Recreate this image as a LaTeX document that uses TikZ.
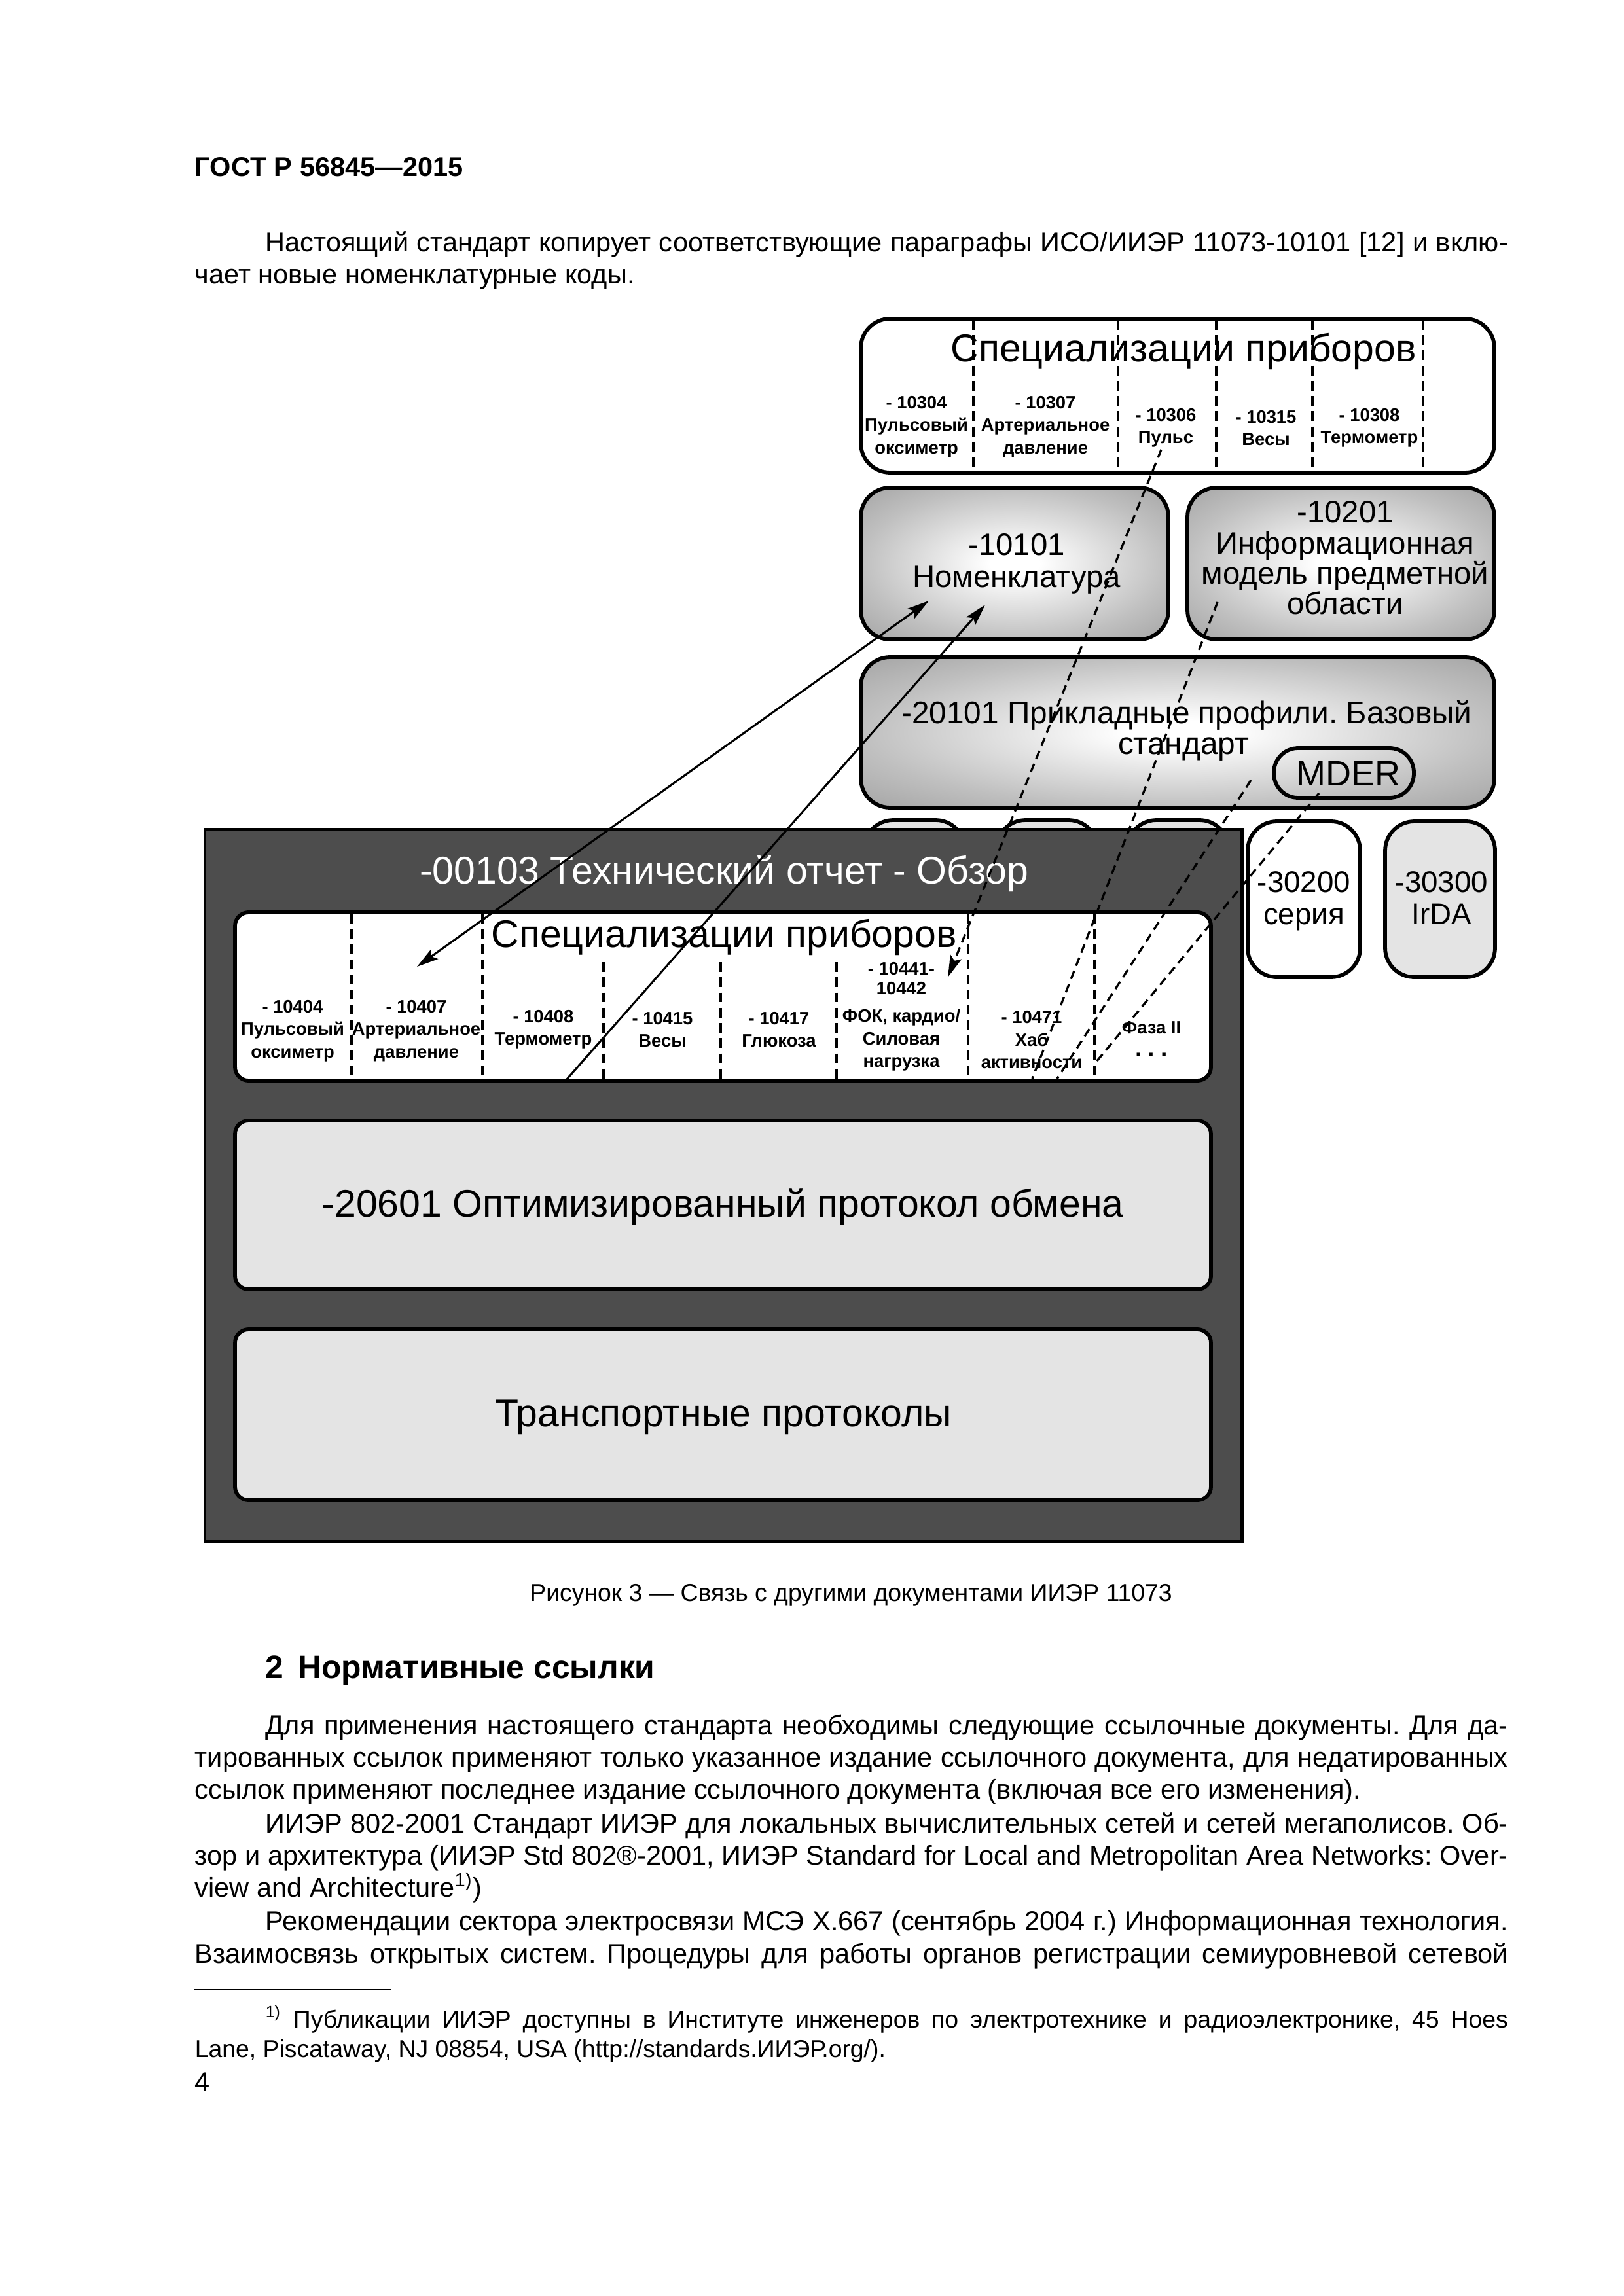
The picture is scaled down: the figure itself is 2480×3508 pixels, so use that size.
\documentclass[tikz,border=0pt]{standalone}
\usepackage{fontspec}
\setmainfont{Liberation Sans}
\usetikzlibrary{fit,arrows.meta}
\newdimen\px \px=0.24088pt
\definecolor{darkbox}{HTML}{4D4D4D}
\definecolor{lightbox}{HTML}{E4E4E4}
\pgfdeclareradialshading{boxshade}{\pgfpoint{0bp}{0bp}}{color(0bp)=(white); color(4bp)=(white); color(25bp)=(black!25); color(36bp)=(black!36); color(50bp)=(black!36)}
\tikzset{
  boxline/.style={draw=black, line width=1.4pt},
  bigbox/.style={boxline, rounded corners=10.8pt, inner sep=0pt},
  shadebox/.style={bigbox, shading=boxshade},
  innerbox/.style={boxline, rounded corners=5pt, inner sep=0pt},
  divider/.style={line width=0.9pt, dash pattern=on 3.6pt off 2pt},
  link/.style={line width=0.75pt},
  dlink/.style={line width=0.8pt, dash pattern=on 3.2pt off 2pt},
  small/.style={font=\fontsize{6.6}{8.3}\selectfont\bfseries, align=center, inner sep=0pt},
  big/.style={font=\fontsize{14.2}{17}\selectfont, inner sep=0pt, anchor=base},
  mid/.style={font=\fontsize{11.4}{11.8}\selectfont, inner sep=0pt, anchor=base},
  body/.style={font=\fontsize{10}{12}\selectfont, inner sep=0pt, anchor=base west},
}
\begin{document}
\frenchspacing
\begin{tikzpicture}[x=0.24088pt, y=-0.24088pt, >={Stealth[length=8pt,width=4.4pt,inset=1.5pt]}]
\fill[white] (0,0) rectangle (2480,3508);
\path[use as bounding box] (0,0) rectangle (2480,3508);

% ---------- page text (top) ----------
\node[body, font=\fontsize{10}{12}\selectfont\bfseries] (hdr) at (297,270) {ГОСТ Р 56845—2015};
\node[body] (p1a) at (405,385) {\hbox to 1898\px{Настоящий стандарт копирует соответствующие параграфы ИСО/ИИЭР 11073-10101 [12] и вклю-}};
\node[body] (p1b) at (297,434) {чает новые номенклатурные коды.};

% ---------- boxes partly hidden behind the dark box ----------
\node[bigbox, fill=lightbox, fit={(1320,1253) (1474,1493)}] (hidA) {};
\node[bigbox, fill=lightbox, fit={(1522,1253) (1677,1493)}] (hidB) {};
\node[bigbox, fill=lightbox, fit={(1722,1253) (1877,1493)}] (hidC) {};
\node[bigbox, fill=white, fit={(1906,1255) (2078,1493)}] (s30200) {};
\node[mid, font=\fontsize{11}{11.8}\selectfont] (s30200a) at (1992,1363) {-30200};
\node[mid, font=\fontsize{11}{11.8}\selectfont] (s30200b) at (1992,1412) {серия};
\node[bigbox, fill=lightbox, fit={(2116,1255) (2284,1493)}] (s30300) {};
\node[mid, font=\fontsize{11}{11.8}\selectfont] (s30300a) at (2202,1363) {-30300};
\node[mid, font=\fontsize{11}{11.8}\selectfont] (s30300b) at (2202,1412) {IrDA};

% ---------- top device specialisations ----------
\node[bigbox, fill=white, fit={(1315,487) (2283,722)}] (topspec) {};
\foreach \xx in {1487,1708,1858,2005,2174} \draw[divider] (\xx,489) -- (\xx,720);
\node[big] (topttl) at (1808,553) {Специализации приборов};
\node[small] (tl1) at (1400,652) {- 10304\\Пульсовый\\оксиметр};
\node[small] (tl2) at (1597,652) {- 10307\\Артериальное\\давление};
\node[small] (tl3) at (1781,654) {- 10306\\Пульс};
\node[small] (tl4) at (1934,654) {- 10315\\Весы};
\node[small] (tl5) at (2092,654) {- 10308\\Термометр};

% ---------- nomenclature / DIM ----------
\node[shadebox, fit={(1315,745) (1785,977)}] (nom) {};
\node[mid] (noma) at (1553,848) {-10101};
\node[mid] (nomb) at (1553,897) {Номенклатура};
\node[shadebox, fit={(1814,745) (2283,977)}] (dim) {};
\node[mid] (dima) at (2055,798) {-10201};
\node[mid] (dimb) at (2055,846) {Информационная};
\node[mid] (dimc) at (2055,892) {модель предметной};
\node[mid] (dimd) at (2055,938) {области};

% ---------- 20101 ----------
\node[shadebox, fit={(1315,1004) (2283,1234)}] (app) {};
\node[mid, font=\fontsize{11.5}{11.8}\selectfont] (appt1) at (1813,1105) {-20101 Прикладные профили. Базовый};
\node[mid, font=\fontsize{11.5}{11.8}\selectfont] (appt2) at (1808,1152) {стандарт};
\node[boxline, rounded corners=9pt, inner sep=0pt, fit={(1946,1143) (2160,1219)}] (mder) {};
\node[mid, font=\fontsize{13}{13}\selectfont] (mdert) at (2060,1200) {MDER};

% ---------- dark technical report box ----------
\node[boxline, line width=1.2pt, fill=darkbox, inner sep=0pt, fit={(313,1267) (1897,2355)}] (tech) {};
\node[big, text=white] (techt) at (1106,1350) {-00103 Технический отчет - Обзор};

\node[innerbox, fill=white, fit={(359,1394) (1850,1651)}] (inspec) {};
\foreach \xx in {537,737,1479,1672} \draw[divider] (\xx,1396) -- (\xx,1649);
\foreach \xx in {922,1101,1278} \draw[divider] (\xx,1470) -- (\xx,1649);
\node[big] (inttl) at (1106,1447) {Специализации приборов};
\node[small] (il1) at (447,1575) {- 10404\\Пульсовый\\оксиметр};
\node[small] (il2) at (636,1575) {- 10407\\Артериальное\\давление};
\node[small] (il3) at (830,1573) {- 10408\\Термометр};
\node[small] (il4) at (1012,1573) {- 10415\\Весы};
\node[small] (il5) at (1190,1573) {- 10417\\Глюкоза};
\node[small, font=\fontsize{6.6}{7.2}\selectfont\bfseries] (il6a) at (1377,1495) {- 10441-\\10442};
\node[small] (il6b) at (1377,1589) {ФОК, кардио/\\Силовая\\нагрузка};
\node[small] (il7) at (1576,1589) {- 10471\\Хаб\\активности};
\node[small] (il8a) at (1759,1570) {Фаза II};
\node[small, font=\fontsize{9}{9}\selectfont\bfseries, anchor=base] (il8b) at (1759,1614) {.\hspace{9\px}.\hspace{9\px}.};

\node[innerbox, fill=lightbox, fit={(359,1712) (1850,1970)}] (opt) {};
\node[big] (optt) at (1104,1859) {-20601 Оптимизированный протокол обмена};
\node[innerbox, fill=lightbox, fit={(359,2031) (1850,2292)}] (trans) {};
\node[big] (transt) at (1105,2179) {Транспортные протоколы};

% ---------- connectors ----------
\coordinate (e1a) at (1419,918);
\coordinate (e1b) at (637,1477);
\coordinate (e2a) at (865,1650);
\coordinate (e2b) at (1505,924);
\coordinate (e3a) at (1774,687);
\coordinate (e3b) at (1448,1493);
\coordinate (e4a) at (1860,920);
\coordinate (e4b) at (1577,1648);
\coordinate (e5a) at (1911,1192);
\coordinate (e5b) at (1615,1648);
\coordinate (e6a) at (2015,1212);
\coordinate (e6b) at (1675,1622);
\draw[link, <->] (e1a) -- (e1b);
\draw[link, ->] (e2a) -- (e2b);
\draw[dlink, ->] (e3a) -- (e3b);
\draw[dlink] (e4a) -- (e4b);
\draw[dlink] (e5a) -- (e5b);
\draw[dlink] (e6a) -- (e6b);

% ---------- page text (bottom) ----------
\node[anchor=base, font=\fontsize{9}{11}\selectfont, inner sep=0pt] (cap) at (1300,2446) {Рисунок 3 — Связь с другими документами ИИЭР 11073};
\node[body, font=\fontsize{12}{14}\selectfont\bfseries] (h2) at (405,2564) {2\hspace{22\px}Нормативные ссылки};

\node[body] (p2a) at (405,2650) {\hbox to 1898\px{Для применения настоящего стандарта необходимы следующие ссылочные документы. Для да-}};
\node[body] (p2b) at (297,2699) {\hbox to 2006\px{тированных ссылок применяют только указанное издание ссылочного документа, для недатированных}};
\node[body] (p2c) at (297,2748) {ссылок применяют последнее издание ссылочного документа (включая все его изменения).};
\node[body] (p3a) at (405,2800) {\hbox to 1898\px{ИИЭР 802-2001 Стандарт ИИЭР для локальных вычислительных сетей и сетей мегаполисов. Об-}};
\node[body] (p3b) at (297,2849) {\hbox to 2006\px{зор и архитектура (ИИЭР Std 802®-2001, ИИЭР Standard for Local and Metropolitan Area Networks: Over-}};
\node[body] (p3c) at (297,2898) {view and Architecture\textsuperscript{1)})};
\node[body] (p4a) at (405,2949) {\hbox to 1898\px{Рекомендации сектора электросвязи МСЭ X.667 (сентябрь 2004 г.) Информационная технология.}};
\node[body] (p4b) at (297,2999) {\hbox to 2006\px{Взаимосвязь открытых систем. Процедуры для работы органов регистрации семиуровневой сетевой}};

\draw[line width=0.35pt] (297,3040) -- (597,3040);
\node[body, font=\fontsize{9}{11}\selectfont] (fn1) at (405,3098) {\hbox to 1898\px{\textsuperscript{1)} Публикации ИИЭР доступны в Институте инженеров по электротехнике и радиоэлектронике, 45 Hoes}};
\node[body, font=\fontsize{9}{11}\selectfont] (fn2) at (297,3143) {Lane, Piscataway, NJ 08854, USA (http://standards.ИИЭР.org/).};
\node[body] (pg) at (297,3195) {4};
\end{tikzpicture}
\end{document}
